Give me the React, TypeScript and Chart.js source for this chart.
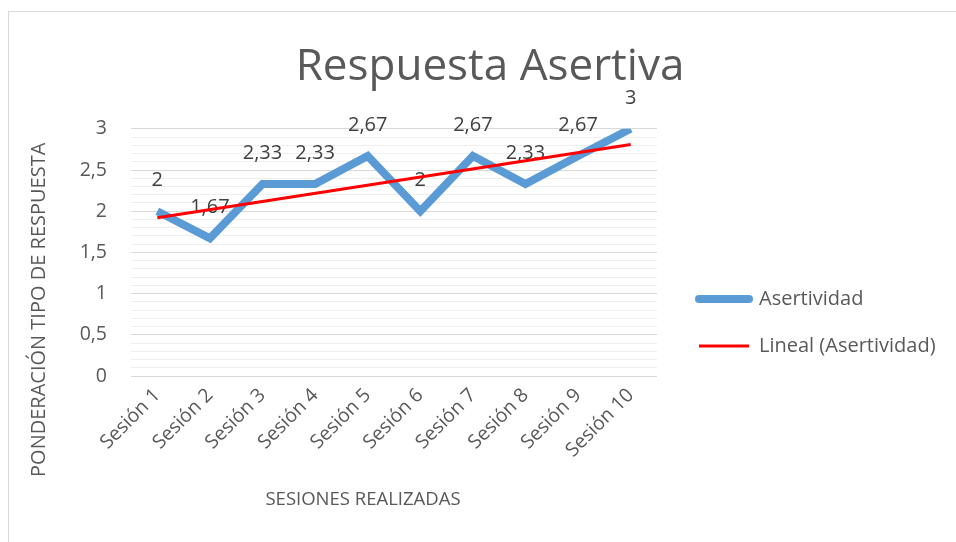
import React, { useEffect, useRef } from 'react';
import { Chart, registerables } from 'chart.js';

Chart.register(...registerables);

const categories = ['Sesión 1', 'Sesión 2', 'Sesión 3', 'Sesión 4', 'Sesión 5', 'Sesión 6', 'Sesión 7', 'Sesión 8', 'Sesión 9', 'Sesión 10'];
const asertividad = [2, 1.67, 2.33, 2.33, 2.67, 2, 2.67, 2.33, 2.67, 3];
const trendStart = 1.92;
const trendEnd = 2.81;
const seriesNames = ['Asertividad', 'Lineal (Asertividad)'];
const chartTitle = 'Respuesta Asertiva';
const yAxisTitle = 'PONDERACIÓN TIPO DE RESPUESTA';
const xAxisTitle = 'SESIONES REALIZADAS';
const yMin = 0;
const yMax = 3;
const yMinorStep = 0.1;
const yMajorStep = 0.5;

const FONT = '"Open Sans", Lato, "DejaVu Sans", sans-serif';
const fmt = (v: number) => String(Math.round(v * 100) / 100).replace('.', ',');
const isMajor = (v: number) => Math.abs(v / yMajorStep - Math.round(v / yMajorStep)) < 1e-6;

const CW = 974;
const CH = 621;
const AREA_LEFT = 128;
const AREA_RIGHT = 654;
const TITLE_CENTER = 487;

export default function App() {
  const ref = useRef<HTMLCanvasElement>(null);

  useEffect(() => {
    if (!ref.current) return;
    let yWidth = 90;

    const dataLabels = {
      id: 'dataLabels',
      beforeDatasetsDraw(chart: any) {
        const ctx = chart.ctx;
        const meta = chart.getDatasetMeta(0);
        ctx.save();
        ctx.font = `20px ${FONT}`;
        ctx.fillStyle = '#404040';
        ctx.textAlign = 'center';
        ctx.textBaseline = 'middle';
        meta.data.forEach((pt: any, i: number) => {
          ctx.fillText(fmt(asertividad[i]), pt.x, pt.y - 31);
        });
        ctx.restore();
      },
    };

    const axisTitles = {
      id: 'axisTitles',
      afterDraw(chart: any) {
        const ctx = chart.ctx;
        const a = chart.chartArea;
        ctx.save();
        ctx.fillStyle = '#595959';
        ctx.textAlign = 'center';
        ctx.textBaseline = 'middle';
        ctx.font = `18.5px ${FONT}`;
        ctx.fillText(xAxisTitle, a.left + 232, a.bottom + 124);
        ctx.font = `20px ${FONT}`;
        ctx.translate(a.left - 92, a.top + 181);
        ctx.rotate(-Math.PI / 2);
        ctx.fillText(yAxisTitle, 0, 0);
        ctx.restore();
      },
    };

    const shiftLegend = {
      id: 'shiftLegend',
      afterLayout(chart: any) {
        const lg = chart.legend;
        if (lg) {
          lg.left += 15;
          lg.right += 15;
        }
      },
    };

    const chart = new Chart(ref.current, {
      type: 'line',
      data: {
        labels: categories,
        datasets: [
          {
            label: seriesNames[0],
            data: asertividad,
            borderColor: '#5B9BD5',
            backgroundColor: '#5B9BD5',
            borderWidth: 8,
            pointRadius: 0,
            tension: 0,
            borderJoinStyle: 'miter',
            order: 1,
          },
          {
            label: seriesNames[1],
            data: [
              { x: categories[0], y: trendStart },
              { x: categories[categories.length - 1], y: trendEnd },
            ] as any,
            borderColor: '#FF0000',
            backgroundColor: '#FF0000',
            borderWidth: 3,
            pointRadius: 0,
            tension: 0,
            order: 0,
          },
        ],
      },
      options: {
        responsive: false,
        animation: false,
        devicePixelRatio: 1,
        layout: { padding: { left: 30, right: 30, top: 0, bottom: 0 } },
        plugins: {
          title: {
            display: true,
            text: chartTitle,
            color: '#595959',
            font: { family: FONT, size: 44, weight: 'normal', lineHeight: 1.2 },
            padding: { top: 29, bottom: 35 },
          },
          legend: {
            position: 'right',
            maxWidth: 600,
            labels: {
              usePointStyle: true,
              pointStyle: 'line',
              pointStyleWidth: 50,
              padding: 27,
              color: '#595959',
              font: { family: FONT, size: 20 },
              generateLabels: (c: any) => {
                const items = Chart.defaults.plugins.legend.labels.generateLabels(c);
                items.sort((p: any, q: any) => p.datasetIndex - q.datasetIndex);
                items.forEach((it: any) => {
                  it.lineCap = it.datasetIndex === 0 ? 'round' : 'butt';
                });
                return items;
              },
            },
          },
          tooltip: { enabled: false },
        },
        scales: {
          x: {
            offset: true,
            grid: { display: false, drawTicks: false },
            border: { display: false },
            ticks: {
              minRotation: 45,
              maxRotation: 45,
              autoSkip: false,
              padding: 8,
              color: '#595959',
              font: { family: FONT, size: 19.5 },
            },
            afterFit: (s: any) => {
              s.height = 257;
            },
          },
          y: {
            min: yMin,
            max: yMax,
            border: { display: false },
            grid: {
              drawTicks: false,
              color: (c: any) => (isMajor(c.tick.value) ? '#d9d9d9' : '#efefef'),
              lineWidth: 1,
            },
            ticks: {
              stepSize: yMinorStep,
              autoSkip: false,
              padding: 24,
              color: '#595959',
              font: { family: FONT, size: 19.5 },
              callback: (v: any) => (isMajor(Number(v)) ? fmt(Number(v)) : ''),
            },
            afterFit: (s: any) => {
              s.width = yWidth;
            },
          },
        },
      },
      plugins: [dataLabels, axisTitles, shiftLegend],
    } as any);

    // second pass: place the plot area and centre the title like the original
    const lw = (chart as any).legend ? (chart as any).legend.width : 290;
    const padR = CW - AREA_RIGHT - lw;
    const padL = 2 * TITLE_CENTER - AREA_RIGHT - lw;
    yWidth = AREA_LEFT - padL;
    (chart.options as any).layout.padding = { left: padL, right: padR, top: 0, bottom: 0 };
    chart.update();

    return () => chart.destroy();
  }, []);

  return (
    <div style={{ position: 'fixed', left: 0, top: 0, width: 956, height: 542, overflow: 'hidden', background: '#fff' }}>
      <div
        style={{
          position: 'absolute',
          left: 8,
          top: 11,
          width: 1100,
          height: 700,
          border: '1px solid #d9d9d9',
          boxSizing: 'border-box',
        }}
      />
      <canvas
        ref={ref}
        width={CW}
        height={CH}
        style={{ position: 'absolute', left: 3, top: 12, width: CW, height: CH }}
      />
    </div>
  );
}
